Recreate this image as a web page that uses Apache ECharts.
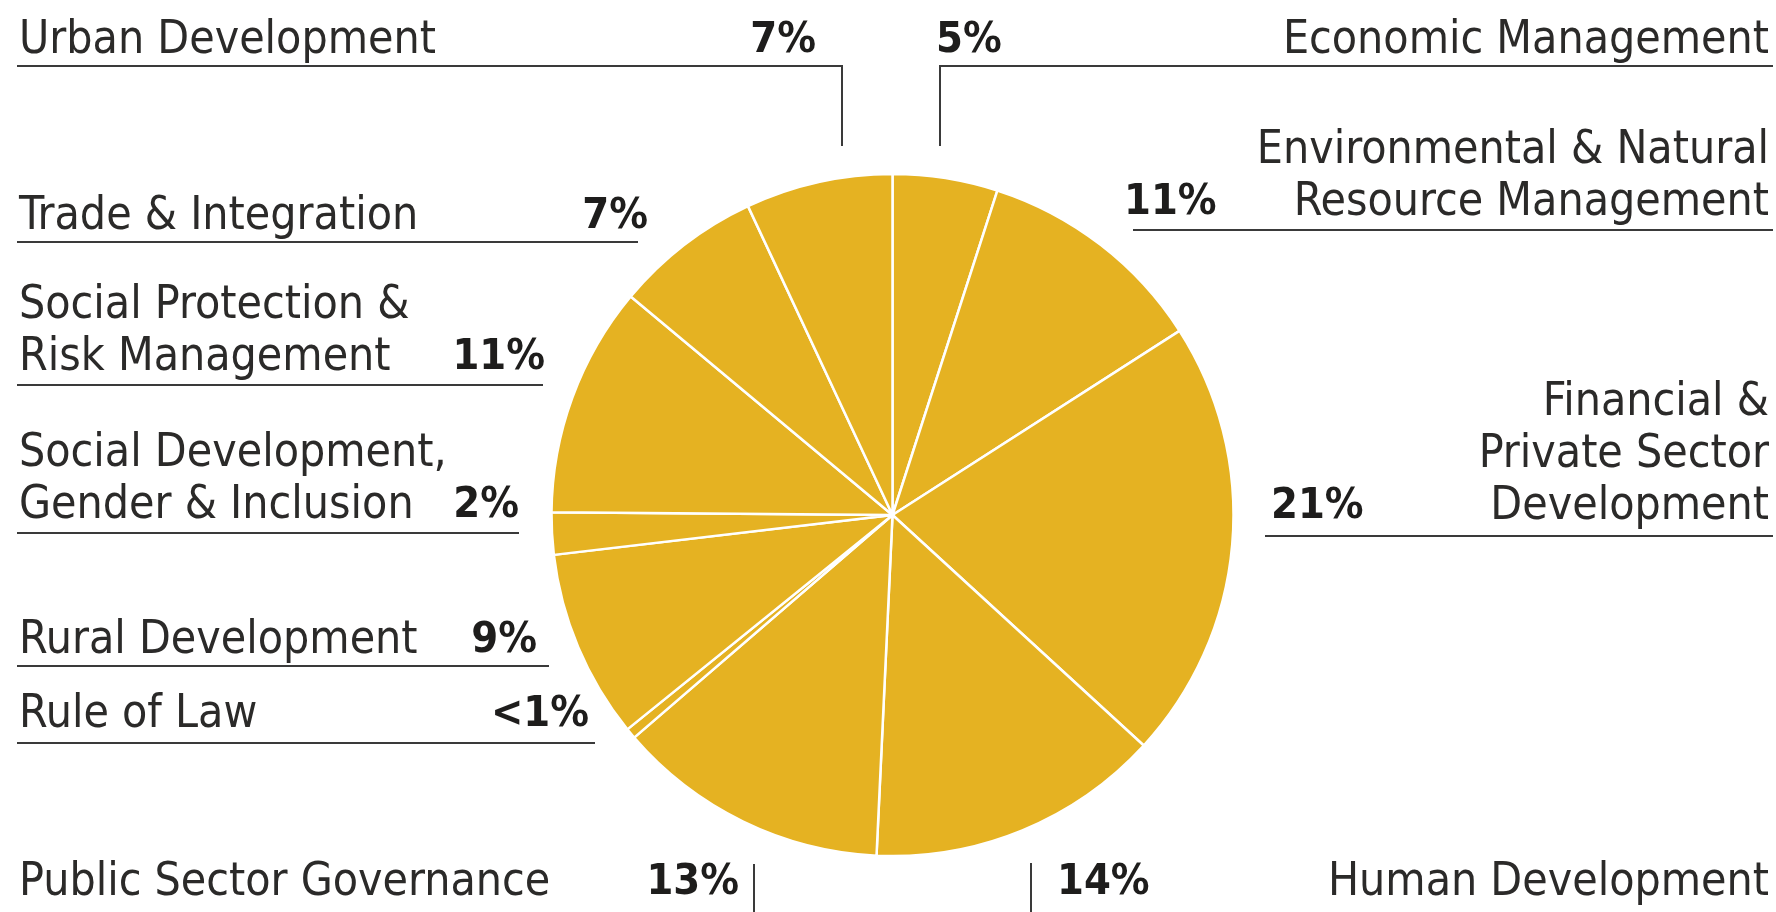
<!DOCTYPE html>
<html>
<head>
<meta charset="utf-8">
<script src="https://cdn.jsdelivr.net/npm/echarts@6/dist/echarts.min.js"></script>
<style>
  html, body { margin: 0; padding: 0; background: #fff; }
  #chart { width: 1776px; height: 912px; }
</style>
</head>
<body>
<div id="chart"></div>
<script>
// slices, clockwise from 12 o'clock
const categories = [
  'Economic Management',
  'Environmental & Natural\nResource Management',
  'Financial &\nPrivate Sector\nDevelopment',
  'Human Development',
  'Public Sector Governance',
  'Rule of Law',
  'Rural Development',
  'Social Development,\nGender & Inclusion',
  'Social Protection &\nRisk Management',
  'Trade & Integration',
  'Urban Development'
]
const shares = [5, 11, 21, 14, 13, 0.5, 9, 2, 11, 7, 7]
const shareLabels = ['5%', '11%', '21%', '14%', '13%', '<1%', '9%', '2%', '11%', '7%', '7%']

// label placement (page pixels): name side, last-line baseline, percent anchor, guide line
const labelLayout = [
  { side: 'right', y: 53, pctX: 936, line: [[940, 146], [940, 66], [1773, 66]] },
  { side: 'right', y: 215, pctX: 1124, line: [[1133, 230], [1773, 230]] },
  { side: 'right', y: 519, pctX: 1271, line: [[1265, 536], [1773, 536]] },
  { side: 'right', y: 895, pctX: 1057, line: [[1031, 863], [1031, 912]] },
  { side: 'left', y: 895, pctX: 739, line: [[754, 864], [754, 912]] },
  { side: 'left', y: 727, pctX: 589, line: [[17, 743], [595, 743]] },
  { side: 'left', y: 653, pctX: 537, line: [[17, 666], [549, 666]] },
  { side: 'left', y: 518, pctX: 519, line: [[17, 533], [519, 533]] },
  { side: 'left', y: 370, pctX: 545, line: [[17, 385], [543, 385]] },
  { side: 'left', y: 229, pctX: 648, line: [[17, 242], [638, 242]] },
  { side: 'left', y: 53, pctX: 816, line: [[17, 66], [842, 66], [842, 146]] }
]

const FONT = '"DejaVu Sans Condensed", "DejaVu Sans", sans-serif'
const SIZE = 46
const PCT_SIZE = 43
const LINE_GAP = 52
const TEXT_COLOR = '#2b2a29'

function buildGraphics() {
  const els = []
  labelLayout.forEach((lay, i) => {
    const lines = categories[i].split('\n')
    lines.forEach((ln, k) => {
      const baseline = lay.y - (lines.length - 1 - k) * LINE_GAP
      els.push({
        type: 'text',
        silent: true,
        style: {
          text: ln,
          x: lay.side === 'left' ? 19 : 1769,
          y: baseline - 12,
          align: lay.side,
          verticalAlign: 'middle',
          font: `normal ${SIZE}px ${FONT}`,
          fill: TEXT_COLOR
        }
      })
    })
    els.push({
      type: 'text',
      silent: true,
      style: {
        text: shareLabels[i],
        x: lay.pctX,
        y: lay.y - 12,
        align: lay.side === 'left' ? 'right' : 'left',
        verticalAlign: 'middle',
        font: `bold ${PCT_SIZE}px ${FONT}`,
        fill: '#1e1d1c'
      }
    })
    els.push({
      type: 'polyline',
      silent: true,
      shape: { points: lay.line },
      style: { stroke: '#3a3a3a', lineWidth: 2, fill: null }
    })
  })
  return els
}

function init() {
  const option = {
    animation: false,
    backgroundColor: '#ffffff',
    series: [
      {
        type: 'pie',
        center: [892.5, 515],
        radius: 341,
        startAngle: 90,
        clockwise: true,
        silent: true,
        label: { show: false },
        labelLine: { show: false },
        itemStyle: {
          color: '#e5b222',
          borderColor: '#ffffff',
          borderWidth: 2.5
        },
        data: categories.map((c, i) => ({ name: c, value: shares[i] }))
      }
    ],
    graphic: buildGraphics()
  }

  const myChart = echarts.init(document.getElementById('chart'))
  myChart.setOption(option)
}

init()
</script>
</body>
</html>
